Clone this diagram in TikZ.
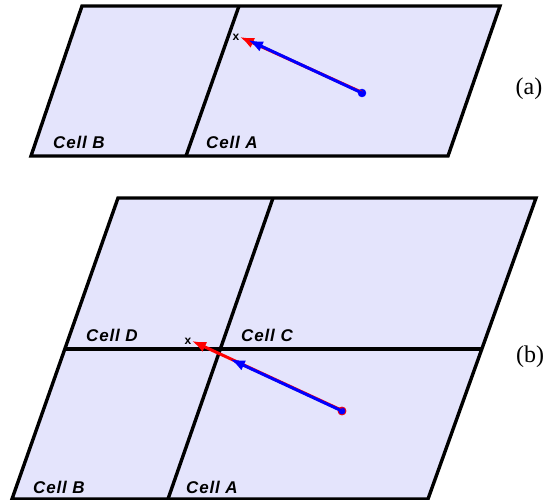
\documentclass[tikz,border=0pt]{standalone}
\usepackage{fontspec}
\setmainfont{Liberation Serif}
\newfontfamily\cellfont[LetterSpace=5]{Liberation Sans}
\newfontfamily\xfont{Liberation Sans}
\usetikzlibrary{arrows.meta}
\definecolor{cellfill}{RGB}{228,228,252}
\definecolor{vecblue}{RGB}{0,0,255}
\definecolor{vecred}{RGB}{255,0,0}
\begin{document}
\begin{tikzpicture}[x=1pt,y=-1pt,
  border/.style={line width=3.4pt, line join=miter, line cap=butt},
  lab/.style={font=\cellfont\bfseries\itshape\fontsize{17}{17}\selectfont, inner sep=0pt},
  xlab/.style={font=\xfont\bfseries\fontsize{12}{12}\selectfont, inner sep=0pt},
  panlab/.style={font=\fontsize{24}{24}\selectfont, inner sep=0pt},
  dotnode/.style={circle, fill=vecblue, draw=vecblue, inner sep=0pt, minimum size=8pt},
  redvec/.style={vecred, line width=3pt, -{Latex[length=14pt,width=11pt]}},
  bluevec/.style={vecblue, line width=3pt, -{Latex[length=15pt,width=11pt]}}]
\useasboundingbox (0,0) rectangle (552,500);

% ---------- panel (a) ----------
\coordinate (a1) at (82,6);
\coordinate (a2) at (500,6);
\coordinate (a3) at (448,156);
\coordinate (a4) at (31,156);
\coordinate (ad1) at (239,6);
\coordinate (ad2) at (186,156);
\fill[cellfill] (a1) -- (a2) -- (a3) -- (a4) -- cycle;
\draw[border] (a1) -- (a2) -- (a3) -- (a4) -- cycle;
\draw[border] (ad1) -- (ad2);
\node[lab] (aB) at (79,142) {Cell B};
\node[lab] (aA) at (232,142) {Cell A};
\node[dotnode] (adot) at (362,93) {};
\coordinate (aredtip) at (240,37);
\coordinate (abluetip) at (248,40);
\draw[redvec] ([yshift=0.6pt]adot.center) -- (aredtip);
\draw[bluevec] (adot.center) -- (abluetip);
\node[xlab] (ax) at (236,37) {x};
\node[panlab] (plA) at (529,89) {(a)};

% ---------- panel (b) ----------
\coordinate (b1) at (118,198);
\coordinate (b2) at (536,198);
\coordinate (b3) at (428,499);
\coordinate (b4) at (12,499);
\coordinate (bm1) at (64,349);
\coordinate (bm2) at (482,349);
\coordinate (bd1) at (273,198);
\coordinate (bd2) at (168,499);
\fill[cellfill] (b1) -- (b2) -- (b3) -- (b4) -- cycle;
\draw[border] (b1) -- (b2) -- (b3) -- (b4) -- cycle;
\draw[border] (bm1) -- (bm2);
\draw[border] (bd1) -- (bd2);
\node[lab] (bD) at (112,335) {Cell D};
\node[lab] (bC) at (267,335) {Cell C};
\node[lab] (bB) at (59,487) {Cell B};
\node[lab] (bA) at (212,487) {Cell A};
\node[dotnode, draw=vecred, line width=0.8pt] (bdot) at (342,411) {};
\coordinate (bredtip) at (192,341);
\coordinate (bbluetip) at (230,359);
\draw[redvec] ([yshift=0.6pt]bdot.center) -- (bredtip);
\draw[bluevec] (bdot.center) -- (bbluetip);
\node[xlab] (bx) at (188,341) {x};
\node[panlab] (plB) at (530,357) {(b)};
\end{tikzpicture}
\end{document}
